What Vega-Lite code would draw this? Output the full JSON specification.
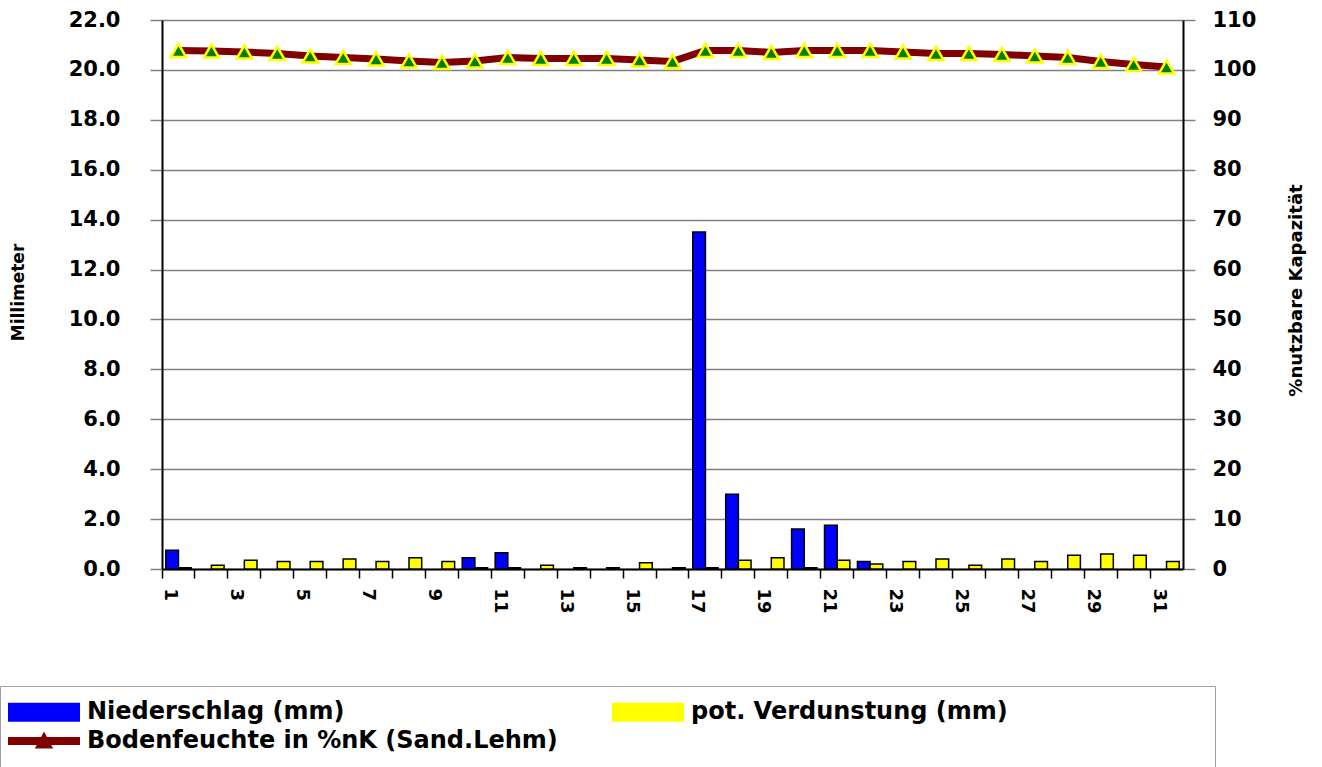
{
  "$schema": "https://vega.github.io/schema/vega-lite/v6.json",
  "autosize": {"type": "none"},
  "width": 1021,
  "height": 549,
  "padding": {"left": 162, "top": 20, "right": 139, "bottom": 198},
  "background": "white",
  "config": {
    "view": {"stroke": null},
    "axis": {"labelFont": "DejaVu Sans", "labelFontWeight": "bold", "labelColor": "black", "titleFont": "DejaVu Sans", "titleFontWeight": "bold", "titleColor": "black"}
  },
  "datasets": {
    "bars": [
      {"day": 1, "serie": "Niederschlag (mm)", "mm": 0.75},
      {"day": 10, "serie": "Niederschlag (mm)", "mm": 0.45},
      {"day": 11, "serie": "Niederschlag (mm)", "mm": 0.65},
      {"day": 17, "serie": "Niederschlag (mm)", "mm": 13.5},
      {"day": 18, "serie": "Niederschlag (mm)", "mm": 3.0},
      {"day": 20, "serie": "Niederschlag (mm)", "mm": 1.6},
      {"day": 21, "serie": "Niederschlag (mm)", "mm": 1.75},
      {"day": 22, "serie": "Niederschlag (mm)", "mm": 0.3},
      {"day": 1, "serie": "pot. Verdunstung (mm)", "mm": 0.05},
      {"day": 2, "serie": "pot. Verdunstung (mm)", "mm": 0.15},
      {"day": 3, "serie": "pot. Verdunstung (mm)", "mm": 0.35},
      {"day": 4, "serie": "pot. Verdunstung (mm)", "mm": 0.3},
      {"day": 5, "serie": "pot. Verdunstung (mm)", "mm": 0.3},
      {"day": 6, "serie": "pot. Verdunstung (mm)", "mm": 0.4},
      {"day": 7, "serie": "pot. Verdunstung (mm)", "mm": 0.3},
      {"day": 8, "serie": "pot. Verdunstung (mm)", "mm": 0.45},
      {"day": 9, "serie": "pot. Verdunstung (mm)", "mm": 0.3},
      {"day": 10, "serie": "pot. Verdunstung (mm)", "mm": 0.05},
      {"day": 11, "serie": "pot. Verdunstung (mm)", "mm": 0.05},
      {"day": 12, "serie": "pot. Verdunstung (mm)", "mm": 0.15},
      {"day": 13, "serie": "pot. Verdunstung (mm)", "mm": 0.05},
      {"day": 14, "serie": "pot. Verdunstung (mm)", "mm": 0.05},
      {"day": 15, "serie": "pot. Verdunstung (mm)", "mm": 0.25},
      {"day": 16, "serie": "pot. Verdunstung (mm)", "mm": 0.05},
      {"day": 17, "serie": "pot. Verdunstung (mm)", "mm": 0.05},
      {"day": 18, "serie": "pot. Verdunstung (mm)", "mm": 0.35},
      {"day": 19, "serie": "pot. Verdunstung (mm)", "mm": 0.45},
      {"day": 20, "serie": "pot. Verdunstung (mm)", "mm": 0.05},
      {"day": 21, "serie": "pot. Verdunstung (mm)", "mm": 0.35},
      {"day": 22, "serie": "pot. Verdunstung (mm)", "mm": 0.2},
      {"day": 23, "serie": "pot. Verdunstung (mm)", "mm": 0.3},
      {"day": 24, "serie": "pot. Verdunstung (mm)", "mm": 0.4},
      {"day": 25, "serie": "pot. Verdunstung (mm)", "mm": 0.15},
      {"day": 26, "serie": "pot. Verdunstung (mm)", "mm": 0.4},
      {"day": 27, "serie": "pot. Verdunstung (mm)", "mm": 0.3},
      {"day": 28, "serie": "pot. Verdunstung (mm)", "mm": 0.55},
      {"day": 29, "serie": "pot. Verdunstung (mm)", "mm": 0.6},
      {"day": 30, "serie": "pot. Verdunstung (mm)", "mm": 0.55},
      {"day": 31, "serie": "pot. Verdunstung (mm)", "mm": 0.3}
    ],
    "soil": [
      {"day": 1, "bf": 103.9}, {"day": 2, "bf": 103.8}, {"day": 3, "bf": 103.6}, {"day": 4, "bf": 103.3},
      {"day": 5, "bf": 102.8}, {"day": 6, "bf": 102.5}, {"day": 7, "bf": 102.2}, {"day": 8, "bf": 101.8},
      {"day": 9, "bf": 101.5}, {"day": 10, "bf": 101.8}, {"day": 11, "bf": 102.5}, {"day": 12, "bf": 102.3},
      {"day": 13, "bf": 102.3}, {"day": 14, "bf": 102.3}, {"day": 15, "bf": 102.0}, {"day": 16, "bf": 101.7},
      {"day": 17, "bf": 103.9}, {"day": 18, "bf": 103.9}, {"day": 19, "bf": 103.5}, {"day": 20, "bf": 103.9},
      {"day": 21, "bf": 103.9}, {"day": 22, "bf": 103.9}, {"day": 23, "bf": 103.6}, {"day": 24, "bf": 103.3},
      {"day": 25, "bf": 103.3}, {"day": 26, "bf": 103.1}, {"day": 27, "bf": 102.8}, {"day": 28, "bf": 102.5},
      {"day": 29, "bf": 101.7}, {"day": 30, "bf": 101.1}, {"day": 31, "bf": 100.6}
    ]
  },
  "encoding": {
    "x": {
      "field": "day", "type": "ordinal",
      "scale": {"domain": [1,2,3,4,5,6,7,8,9,10,11,12,13,14,15,16,17,18,19,20,21,22,23,24,25,26,27,28,29,30,31], "paddingInner": 0, "paddingOuter": 0},
      "axis": {
        "title": null, "bandPosition": 0, "labelAngle": 90, "labelOverlap": false,
        "labelExpr": "datum.value % 2 == 1 ? datum.label : ''",
        "labelOffset": -8, "labelPadding": 10, "labelFontSize": 18,
        "tickSize": 9, "tickColor": "black", "tickWidth": 1.5,
        "domainColor": "black", "domainWidth": 2
      }
    }
  },
  "layer": [
    {
      "data": {"name": "bars"},
      "mark": {"type": "bar", "stroke": "black", "strokeWidth": 1.5},
      "encoding": {
        "xOffset": {"field": "serie", "scale": {"domain": ["Niederschlag (mm)", "pot. Verdunstung (mm)"], "paddingInner": 0, "paddingOuter": 0.3}},
        "y": {
          "field": "mm", "type": "quantitative",
          "scale": {"domain": [0, 22], "nice": false},
          "axis": {
            "title": "Millimeter", "values": [0,2,4,6,8,10,12,14,16,18,20,22], "format": ".1f",
            "grid": true, "gridColor": "#808080", "gridWidth": 1.5,
            "domainColor": "black", "domainWidth": 2,
            "tickColor": "#808080", "tickSize": 12, "tickWidth": 1.5,
            "labelPadding": 30, "labelFontSize": 21,
            "titleFontSize": 17, "titleAngle": 270, "titleX": -144, "titleY": 272,
            "titleAlign": "center", "titleBaseline": "middle"
          }
        },
        "color": {
          "field": "serie", "type": "nominal",
          "scale": {"domain": ["Niederschlag (mm)", "pot. Verdunstung (mm)", "Bodenfeuchte in %nK (Sand.Lehm)"], "range": ["#0000ff", "#ffff00", "#800000"]},
          "legend": {
            "title": null, "orient": "none", "direction": "horizontal", "legendX": -162, "legendY": 666,
            "columns": 2, "columnPadding": 51, "rowPadding": 4, "padding": 14,
            "strokeColor": "#a0a0a0", "fillColor": "white",
            "symbolSize": 400, "symbolOffset": 18, "labelOffset": 31,
            "symbolType": {"expr": "datum.value == 'Bodenfeuchte in %nK (Sand.Lehm)' ? 'M-3.5,-0.3H3.5V0.3H-3.5Z M-0.75,0.65L0,-0.75L0.75,0.65Z' : datum.value == 'pot. Verdunstung (mm)' ? 'M-3.5,-0.85H3.5V0.85H-3.5Z M54.9,0L54.9,0' : 'M-3.5,-0.85H3.5V0.85H-3.5Z'"},
            "symbolStrokeColor": {"expr": "datum.value == 'Bodenfeuchte in %nK (Sand.Lehm)' ? '#800000' : 'black'"},
            "symbolStrokeWidth": 2,
            "symbolOpacity": 1,
            "labelFont": "DejaVu Sans", "labelFontWeight": "bold", "labelFontSize": 24, "labelColor": "black", "labelLimit": 1000
          }
        }
      }
    },
    {
      "data": {"name": "soil"},
      "encoding": {
        "y": {
          "field": "bf", "type": "quantitative",
          "scale": {"domain": [0, 110], "nice": false},
          "axis": {
            "orient": "right", "title": "%nutzbare Kapazität", "values": [0,10,20,30,40,50,60,70,80,90,100,110],
            "grid": false, "domainColor": "black", "domainWidth": 2,
            "tickColor": "#808080", "tickSize": 12, "tickWidth": 1.5,
            "labelPadding": 17, "labelFontSize": 21,
            "titleFontSize": 18, "titleAngle": 270, "titleX": 113, "titleY": 270,
            "titleAlign": "center", "titleBaseline": "middle"
          }
        }
      },
      "layer": [
        {
          "mark": {"type": "line", "strokeWidth": 7},
          "encoding": {"color": {"datum": "Bodenfeuchte in %nK (Sand.Lehm)", "legend": null}}
        },
        {
          "mark": {"type": "point", "shape": "triangle-up", "filled": true, "fill": "#008000", "stroke": "#ffff00", "strokeWidth": 2.5, "size": 230, "opacity": 1},
          "encoding": {}
        }
      ]
    }
  ],
  "resolve": {"scale": {"y": "independent"}}
}
